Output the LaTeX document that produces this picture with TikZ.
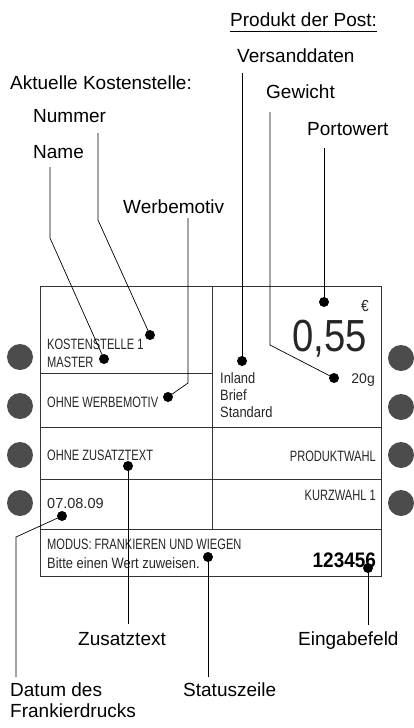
\documentclass[tikz,border=0pt]{standalone}
\usepackage{fontspec}
\setmainfont{Liberation Sans}
\newfontfamily\capfont[FakeStretch=0.74]{Liberation Sans}
\newfontfamily\lowfont[FakeStretch=0.86]{Liberation Sans}
\newfontfamily\bigfont[FakeStretch=0.85]{Liberation Sans}
\newfontfamily\numfont[FakeStretch=0.9]{Liberation Sans}
\begin{document}
\begin{tikzpicture}[x=1pt,y=-1pt,
  lbl/.style={anchor=base west,inner sep=0pt,font=\fontsize{19}{21}\selectfont},
  captxt/.style={anchor=base west,inner sep=0pt,text=black!85,font=\capfont\fontsize{15}{17}\selectfont},
  lowtxt/.style={anchor=base west,inner sep=0pt,text=black!85,font=\lowfont\fontsize{15}{17}\selectfont},
  boxline/.style={draw=black!80,line width=0.9pt},
  leader/.style={draw=black,line width=0.7pt},
  dot/.style={circle,fill=black,inner sep=0pt,minimum size=10pt},
  btn/.style={circle,fill=black!70,inner sep=0pt,minimum size=26pt}]
\useasboundingbox (0,0) rectangle (414,728);
% display frame
\draw[boxline] (40,286) rectangle (381,576);
\draw[boxline] (212,286) -- (212,529);
\draw[boxline] (40,373) -- (212,373);
\draw[boxline] (40,427) -- (381,427);
\draw[boxline] (40,479) -- (381,479);
\draw[boxline] (40,529) -- (381,529);
% buttons
\node[btn] (bl1) at (20,357) {};
\node[btn] (bl2) at (20,406) {};
\node[btn] (bl3) at (20,455) {};
\node[btn] (bl4) at (20,503) {};
\node[btn] (br1) at (401,358) {};
\node[btn] (br2) at (401,407) {};
\node[btn] (br3) at (401,455) {};
\node[btn] (br4) at (401,503) {};
% display texts
\node[captxt] (kst) at (47,349) {KOSTENSTELLE 1};
\node[captxt] (mst) at (47,367) {MASTER};
\node[captxt] (werb) at (47,407) {OHNE WERBEMOTIV};
\node[captxt] (zus) at (47,460) {OHNE ZUSATZTEXT};
\node[lowtxt,font=\fontsize{14.5}{16}\selectfont] (dat) at (47,508) {07.08.09};
\node[captxt] (mod) at (47,549) {MODUS: FRANKIEREN UND WIEGEN};
\node[lowtxt] (bit) at (47,568) {Bitte einen Wert zuweisen.};
\node[captxt,anchor=base east] (prod) at (376,461) {PRODUKTWAHL};
\node[captxt,anchor=base east] (kurz) at (376,500) {KURZWAHL 1};
\node[anchor=base east,inner sep=0pt,font=\numfont\bfseries\fontsize{21}{23}\selectfont] (num) at (376,567) {123456};
\node[anchor=base east,inner sep=0pt,text=black!85,font=\lowfont\fontsize{16}{18}\selectfont] (eur) at (369,311) {€};
\node[anchor=base east,inner sep=0pt,text=black!85,font=\bigfont\fontsize{45}{50}\selectfont] (val) at (367,351) {0,55};
\node[lowtxt,anchor=base east,font=\fontsize{14}{16}\selectfont] (gram) at (375,383) {20g};
\node[lowtxt] (inl) at (220,383) {Inland};
\node[lowtxt] (bri) at (220,400) {Brief};
\node[lowtxt] (std) at (220,417) {Standard};
% labels
\node[lbl] (lpost) at (230,27) {Produkt der Post:};
\coordinate (ul1) at (230,31.5); \coordinate (ul2) at (377,31.5);
\draw[line width=1.3pt] (ul1) -- (ul2);
\node[lbl] (lvers) at (237,62) {Versanddaten};
\node[lbl] (lakt) at (10,89) {Aktuelle Kostenstelle:};
\node[lbl] (lgew) at (266,98) {Gewicht};
\node[lbl] (lnum) at (33,122) {Nummer};
\node[lbl] (lporto) at (307,135) {Portowert};
\node[lbl] (lname) at (33,158) {Name};
\node[lbl] (lwerb) at (123,213) {Werbemotiv};
\node[lbl] (lzus) at (78,645) {Zusatztext};
\node[lbl] (lein) at (298,645) {Eingabefeld};
\node[lbl] (ldat1) at (10,696) {Datum des};
\node[lbl] (ldat2) at (10,717) {Frankierdrucks};
\node[lbl] (lstat) at (183,696) {Statuszeile};
% dots
\node[dot] (dname) at (104,359) {};
\node[dot] (dnum) at (150,335) {};
\node[dot] (dwerb) at (168,397) {};
\node[dot] (dvers) at (242,361) {};
\node[dot] (dgew) at (334,378) {};
\node[dot] (dporto) at (324,302) {};
\node[dot] (dzus) at (128,466) {};
\node[dot] (ddat) at (62,516) {};
\node[dot] (dstat) at (208,557) {};
\node[dot] (dein) at (368,568) {};
% leader coordinates
\coordinate (cname1) at (50,167); \coordinate (cname2) at (50,238);
\coordinate (cnum1) at (98,133); \coordinate (cnum2) at (98,220);
\coordinate (cwerb1) at (188,218); \coordinate (cwerb2) at (188,383);
\coordinate (cvers1) at (242,73);
\coordinate (cgew1) at (270,112); \coordinate (cgew2) at (270,345);
\coordinate (cporto1) at (324,148);
\coordinate (cdat1) at (16,537); \coordinate (cdat2) at (16,677);
\coordinate (czus1) at (128,624);
\coordinate (cstat1) at (208,677);
\coordinate (cein1) at (368,625);
% leaders
\draw[leader] (cname1) -- (cname2) -- (dname.center);
\draw[leader] (cnum1) -- (cnum2) -- (dnum.center);
\draw[leader] (cwerb1) -- (cwerb2) -- (dwerb.center);
\draw[leader] (cvers1) -- (dvers.center);
\draw[leader] (cgew1) -- (cgew2) -- (dgew.center);
\draw[leader] (cporto1) -- (dporto.center);
\draw[leader] (ddat.center) -- (cdat1) -- (cdat2);
\draw[leader] (dzus.center) -- (czus1);
\draw[leader] (dstat.center) -- (cstat1);
\draw[leader] (dein.center) -- (cein1);
\end{tikzpicture}
\end{document}
